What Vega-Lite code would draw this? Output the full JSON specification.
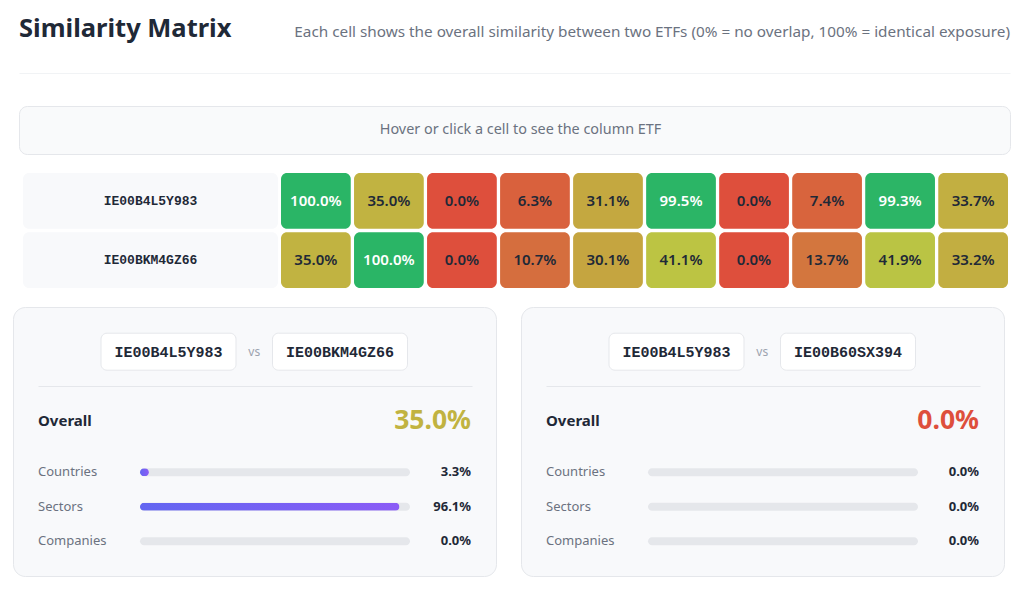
{
  "$schema": "https://vega.github.io/schema/vega-lite/v6.json",
  "background": "#ffffff",
  "padding": {"left": 12, "top": 0, "right": 0, "bottom": 0},
  "config": {
    "view": {"stroke": null},
    "font": "Noto Sans",
    "concat": {"spacing": 0}
  },
  "datasets": {
    "header": [
      {"role": "title", "text": "Similarity Matrix"},
      {"role": "subtitle", "text": "Each cell shows the overall similarity between two ETFs (0% = no overlap, 100% = identical exposure)"}
    ],
    "hint": [{"text": "Hover or click a cell to see the column ETF"}],
    "etfs": [{"isin": "IE00B4L5Y983"}, {"isin": "IE00BKM4GZ66"}],
    "matrix": [
      {"row": "IE00B4L5Y983", "col": "IE00B4L5Y983", "similarity": 1.0},
      {"row": "IE00B4L5Y983", "col": "IE00BKM4GZ66", "similarity": 0.35},
      {"row": "IE00B4L5Y983", "col": "IE00B60SX394", "similarity": 0.0},
      {"row": "IE00B4L5Y983", "col": "ETF #4", "similarity": 0.063},
      {"row": "IE00B4L5Y983", "col": "ETF #5", "similarity": 0.311},
      {"row": "IE00B4L5Y983", "col": "ETF #6", "similarity": 0.995},
      {"row": "IE00B4L5Y983", "col": "ETF #7", "similarity": 0.0},
      {"row": "IE00B4L5Y983", "col": "ETF #8", "similarity": 0.074},
      {"row": "IE00B4L5Y983", "col": "ETF #9", "similarity": 0.993},
      {"row": "IE00B4L5Y983", "col": "ETF #10", "similarity": 0.337},
      {"row": "IE00BKM4GZ66", "col": "IE00B4L5Y983", "similarity": 0.35},
      {"row": "IE00BKM4GZ66", "col": "IE00BKM4GZ66", "similarity": 1.0},
      {"row": "IE00BKM4GZ66", "col": "IE00B60SX394", "similarity": 0.0},
      {"row": "IE00BKM4GZ66", "col": "ETF #4", "similarity": 0.107},
      {"row": "IE00BKM4GZ66", "col": "ETF #5", "similarity": 0.301},
      {"row": "IE00BKM4GZ66", "col": "ETF #6", "similarity": 0.411},
      {"row": "IE00BKM4GZ66", "col": "ETF #7", "similarity": 0.0},
      {"row": "IE00BKM4GZ66", "col": "ETF #8", "similarity": 0.137},
      {"row": "IE00BKM4GZ66", "col": "ETF #9", "similarity": 0.419},
      {"row": "IE00BKM4GZ66", "col": "ETF #10", "similarity": 0.332}
    ],
    "pairs": [
      {"card": 1, "section": "pair", "side": "left", "isin": "IE00B4L5Y983"},
      {"card": 1, "section": "pair", "side": "right", "isin": "IE00BKM4GZ66"},
      {"card": 2, "section": "pair", "side": "left", "isin": "IE00B4L5Y983"},
      {"card": 2, "section": "pair", "side": "right", "isin": "IE00B60SX394"}
    ],
    "overall": [
      {"card": 1, "label": "Overall", "similarity": 0.35},
      {"card": 2, "label": "Overall", "similarity": 0.0}
    ],
    "breakdown": [
      {"card": 1, "dimension": "Countries", "similarity": 0.033},
      {"card": 1, "dimension": "Sectors", "similarity": 0.961},
      {"card": 1, "dimension": "Companies", "similarity": 0.0},
      {"card": 2, "dimension": "Countries", "similarity": 0.0},
      {"card": 2, "dimension": "Sectors", "similarity": 0.0},
      {"card": 2, "dimension": "Companies", "similarity": 0.0}
    ]
  },
  "spacing": 0,
  "vconcat": [
    {
      "bounds": "flush",
      "spacing": 0,
      "hconcat": [
        {"width": 6, "height": 73, "data": {"values": []}, "mark": "point", "encoding": {}},
        {
          "width": 991,
          "height": 73,
          "data": {"name": "header"},
          "layer": [
            {
              "transform": [{"filter": "datum.role == 'title'"}],
              "mark": {"type": "text", "align": "left", "baseline": "alphabetic", "fontSize": 25.5, "fontWeight": "bold", "color": "#1f2937"},
              "encoding": {
                "x": {
                  "field": "role", "type": "nominal",
                  "scale": {"type": "point", "domain": ["title", "subtitle"], "padding": 0},
                  "axis": {"orient": "bottom", "title": null, "labels": false, "ticks": false, "grid": false, "domain": true, "domainColor": "#f1f3f5", "domainWidth": 1}
                },
                "text": {"field": "text"}
              }
            },
            {
              "transform": [{"filter": "datum.role == 'subtitle'"}],
              "mark": {"type": "text", "align": "right", "baseline": "alphabetic", "fontSize": 15.3, "color": "#6b7280"},
              "encoding": {
                "x": {"field": "role", "type": "nominal"},
                "text": {"field": "text"}
              }
            }
          ]
        }
      ]
    },
    {"width": 1, "height": 32, "data": {"values": []}, "mark": "point", "encoding": {}},
    {
      "bounds": "flush",
      "spacing": 0,
      "hconcat": [
        {"width": 6, "height": 48, "data": {"values": []}, "mark": "point", "encoding": {}},
        {
          "width": 991,
          "height": 48,
          "view": {"fill": "#f9fafb", "stroke": "#e5e7eb", "strokeWidth": 1, "cornerRadius": 8},
          "data": {"name": "hint"},
          "mark": {"type": "text", "fontSize": 14.4, "color": "#6b7280", "dx": 6},
          "encoding": {"text": {"field": "text"}}
        }
      ]
    },
    {"width": 1, "height": 17.7, "data": {"values": []}, "mark": "point", "encoding": {}},
    {
      "bounds": "flush",
      "spacing": 3,
      "hconcat": [
        {"width": 7, "height": 115, "data": {"values": []}, "mark": "point", "encoding": {}},
        {
          "width": 255,
          "height": 115,
          "data": {"name": "etfs"},
          "encoding": {
            "y": {"field": "isin", "type": "nominal", "sort": null, "scale": {"paddingInner": 0.06, "paddingOuter": 0}, "axis": null}
          },
          "layer": [
            {"mark": {"type": "rect", "fill": "#f8f9fb", "cornerRadius": 6}, "encoding": {}},
            {
              "mark": {"type": "text", "font": "Liberation Mono", "fontWeight": "bold", "fontSize": 13, "color": "#1f2937"},
              "encoding": {"text": {"field": "isin"}}
            }
          ]
        },
        {
          "width": 727,
          "height": 115,
          "data": {"name": "matrix"},
          "encoding": {
            "x": {"field": "col", "type": "nominal", "sort": null, "scale": {"paddingInner": 0.045, "paddingOuter": 0}, "axis": null},
            "y": {"field": "row", "type": "nominal", "sort": null, "scale": {"paddingInner": 0.06, "paddingOuter": 0}, "axis": null}
          },
          "layer": [
            {
              "mark": {"type": "rect", "cornerRadius": 6},
              "encoding": {
                "color": {
                  "field": "similarity", "type": "quantitative",
                  "scale": {"type": "linear", "domain": [0, 0.35, 0.41, 1], "range": ["#de4f3c", "#c1b341", "#bcc443", "#2ab566"], "interpolate": "rgb"},
                  "legend": null
                }
              }
            },
            {
              "mark": {"type": "text", "fontSize": 15, "fontWeight": 600},
              "encoding": {
                "text": {"field": "similarity", "type": "quantitative", "format": ".1%"},
                "color": {"condition": {"test": "datum.similarity >= 0.9", "value": "#ffffff"}, "value": "#1f2937"}
              }
            }
          ]
        }
      ]
    },
    {"width": 1, "height": 17.8, "data": {"values": []}, "mark": "point", "encoding": {}},
    {
      "bounds": "flush",
      "spacing": 25,
      "hconcat": [
        {
          "width": 483,
          "height": 269,
          "view": {"fill": "#f8f9fb", "stroke": "#e5e7eb", "strokeWidth": 1, "cornerRadius": 12},
          "layer": [
            {
              "data": {"name": "breakdown"},
              "transform": [{"filter": "datum.card == 1"}],
              "mark": {"type": "bar", "height": 8, "cornerRadius": 4, "fill": "#e5e7eb"},
              "encoding": {
                "x": {"datum": 1, "type": "quantitative", "scale": {"domain": [-0.37778, 1.22963], "range": [25, 459], "nice": false, "zero": false}, "axis": {"orient": "top", "offset": -79, "title": null, "labels": false, "ticks": false, "grid": false, "domain": true, "domainColor": "#e5e7eb", "domainWidth": 1}},
                "y": {"field": "dimension", "type": "ordinal", "scale": {"type": "band", "domain": ["pair", "g1", "sep", "g2", "Overall", "g3", "g4", "Countries", "g5", "Sectors", "g6", "Companies"], "range": [36.08, 242.85], "paddingInner": 0, "paddingOuter": 0}, "axis": null}
              }
            },
            {
              "data": {"name": "breakdown"},
              "transform": [{"filter": "datum.card == 1"}],
              "mark": {"type": "bar", "height": 8, "cornerRadius": 4, "fill": {"gradient": "linear", "x1": 0, "y1": 0, "x2": 1, "y2": 0, "stops": [{"offset": 0, "color": "#6366f1"}, {"offset": 1, "color": "#8b5cf6"}]}},
              "encoding": {
                "x": {"field": "similarity", "type": "quantitative"},
                "y": {"field": "dimension", "type": "ordinal", "axis": null}
              }
            },
            {
              "data": {"name": "breakdown"},
              "transform": [{"filter": "datum.card == 1"}],
              "mark": {"type": "text", "align": "left", "fontSize": 13, "color": "#6b7280"},
              "encoding": {
                "x": {"datum": -0.37778, "type": "quantitative"},
                "y": {"field": "dimension", "type": "ordinal", "axis": null},
                "text": {"field": "dimension"}
              }
            },
            {
              "data": {"name": "breakdown"},
              "transform": [{"filter": "datum.card == 1"}],
              "mark": {"type": "text", "align": "right", "fontSize": 13, "fontWeight": "bold", "color": "#1f2937"},
              "encoding": {
                "x": {"datum": 1.22593, "type": "quantitative"},
                "y": {"field": "dimension", "type": "ordinal", "axis": null},
                "text": {"field": "similarity", "type": "quantitative", "format": ".1%"}
              }
            },
            {
              "data": {"name": "overall"},
              "transform": [{"filter": "datum.card == 1"}],
              "mark": {"type": "text", "align": "left", "fontSize": 15, "fontWeight": "bold", "color": "#1f2937"},
              "encoding": {
                "x": {"datum": -0.37778, "type": "quantitative"},
                "y": {"field": "label", "type": "ordinal", "axis": null},
                "text": {"field": "label"}
              }
            },
            {
              "data": {"name": "overall"},
              "transform": [{"filter": "datum.card == 1"}],
              "mark": {"type": "text", "align": "right", "fontSize": 26.5, "fontWeight": "bold"},
              "encoding": {
                "x": {"datum": 1.22593, "type": "quantitative"},
                "y": {"field": "label", "type": "ordinal", "axis": null},
                "text": {"field": "similarity", "type": "quantitative", "format": ".1%"},
                "color": {
                  "field": "similarity", "type": "quantitative",
                  "scale": {"type": "linear", "domain": [0, 0.35, 0.41, 1], "range": ["#de4f3c", "#c1b341", "#bcc443", "#2ab566"], "interpolate": "rgb"},
                  "legend": null
                }
              }
            },
            {
              "data": {"name": "pairs"},
              "transform": [{"filter": "datum.card == 1 && datum.side == 'left'"}],
              "mark": {"type": "rect", "width": 135, "height": 37, "fill": "#ffffff", "stroke": "#e5e7eb", "strokeWidth": 1, "cornerRadius": 6},
              "encoding": {
                "x": {"datum": 0.10556, "type": "quantitative"},
                "y": {"field": "section", "type": "ordinal", "axis": null}
              }
            },
            {
              "data": {"name": "pairs"},
              "transform": [{"filter": "datum.card == 1 && datum.side == 'right'"}],
              "mark": {"type": "rect", "width": 135, "height": 37, "fill": "#ffffff", "stroke": "#e5e7eb", "strokeWidth": 1, "cornerRadius": 6},
              "encoding": {
                "x": {"datum": 0.74074, "type": "quantitative"},
                "y": {"field": "section", "type": "ordinal", "axis": null}
              }
            },
            {
              "data": {"name": "pairs"},
              "transform": [{"filter": "datum.card == 1 && datum.side == 'left'"}],
              "mark": {"type": "text", "font": "Liberation Mono", "fontWeight": "bold", "fontSize": 15, "color": "#1f2937"},
              "encoding": {
                "x": {"datum": 0.10556, "type": "quantitative"},
                "y": {"field": "section", "type": "ordinal", "axis": null},
                "text": {"field": "isin"}
              }
            },
            {
              "data": {"name": "pairs"},
              "transform": [{"filter": "datum.card == 1 && datum.side == 'right'"}],
              "mark": {"type": "text", "font": "Liberation Mono", "fontWeight": "bold", "fontSize": 15, "color": "#1f2937"},
              "encoding": {
                "x": {"datum": 0.74074, "type": "quantitative"},
                "y": {"field": "section", "type": "ordinal", "axis": null},
                "text": {"field": "isin"}
              }
            },
            {
              "data": {"name": "pairs"},
              "transform": [{"filter": "datum.card == 1 && datum.side == 'left'"}],
              "mark": {"type": "text", "text": "vs", "fontSize": 12, "color": "#9ca3af"},
              "encoding": {
                "x": {"datum": 0.42315, "type": "quantitative"},
                "y": {"field": "section", "type": "ordinal", "axis": null}
              }
            }
          ]
        },
        {
          "width": 483,
          "height": 269,
          "view": {"fill": "#f8f9fb", "stroke": "#e5e7eb", "strokeWidth": 1, "cornerRadius": 12},
          "layer": [
            {
              "data": {"name": "breakdown"},
              "transform": [{"filter": "datum.card == 2"}],
              "mark": {"type": "bar", "height": 8, "cornerRadius": 4, "fill": "#e5e7eb"},
              "encoding": {
                "x": {"datum": 1, "type": "quantitative", "scale": {"domain": [-0.37778, 1.22963], "range": [25, 459], "nice": false, "zero": false}, "axis": {"orient": "top", "offset": -79, "title": null, "labels": false, "ticks": false, "grid": false, "domain": true, "domainColor": "#e5e7eb", "domainWidth": 1}},
                "y": {"field": "dimension", "type": "ordinal", "scale": {"type": "band", "domain": ["pair", "g1", "sep", "g2", "Overall", "g3", "g4", "Countries", "g5", "Sectors", "g6", "Companies"], "range": [36.08, 242.85], "paddingInner": 0, "paddingOuter": 0}, "axis": null}
              }
            },
            {
              "data": {"name": "breakdown"},
              "transform": [{"filter": "datum.card == 2"}],
              "mark": {"type": "bar", "height": 8, "cornerRadius": 4, "fill": {"gradient": "linear", "x1": 0, "y1": 0, "x2": 1, "y2": 0, "stops": [{"offset": 0, "color": "#6366f1"}, {"offset": 1, "color": "#8b5cf6"}]}},
              "encoding": {
                "x": {"field": "similarity", "type": "quantitative"},
                "y": {"field": "dimension", "type": "ordinal", "axis": null}
              }
            },
            {
              "data": {"name": "breakdown"},
              "transform": [{"filter": "datum.card == 2"}],
              "mark": {"type": "text", "align": "left", "fontSize": 13, "color": "#6b7280"},
              "encoding": {
                "x": {"datum": -0.37778, "type": "quantitative"},
                "y": {"field": "dimension", "type": "ordinal", "axis": null},
                "text": {"field": "dimension"}
              }
            },
            {
              "data": {"name": "breakdown"},
              "transform": [{"filter": "datum.card == 2"}],
              "mark": {"type": "text", "align": "right", "fontSize": 13, "fontWeight": "bold", "color": "#1f2937"},
              "encoding": {
                "x": {"datum": 1.22593, "type": "quantitative"},
                "y": {"field": "dimension", "type": "ordinal", "axis": null},
                "text": {"field": "similarity", "type": "quantitative", "format": ".1%"}
              }
            },
            {
              "data": {"name": "overall"},
              "transform": [{"filter": "datum.card == 2"}],
              "mark": {"type": "text", "align": "left", "fontSize": 15, "fontWeight": "bold", "color": "#1f2937"},
              "encoding": {
                "x": {"datum": -0.37778, "type": "quantitative"},
                "y": {"field": "label", "type": "ordinal", "axis": null},
                "text": {"field": "label"}
              }
            },
            {
              "data": {"name": "overall"},
              "transform": [{"filter": "datum.card == 2"}],
              "mark": {"type": "text", "align": "right", "fontSize": 26.5, "fontWeight": "bold"},
              "encoding": {
                "x": {"datum": 1.22593, "type": "quantitative"},
                "y": {"field": "label", "type": "ordinal", "axis": null},
                "text": {"field": "similarity", "type": "quantitative", "format": ".1%"},
                "color": {
                  "field": "similarity", "type": "quantitative",
                  "scale": {"type": "linear", "domain": [0, 0.35, 0.41, 1], "range": ["#de4f3c", "#c1b341", "#bcc443", "#2ab566"], "interpolate": "rgb"},
                  "legend": null
                }
              }
            },
            {
              "data": {"name": "pairs"},
              "transform": [{"filter": "datum.card == 2 && datum.side == 'left'"}],
              "mark": {"type": "rect", "width": 135, "height": 37, "fill": "#ffffff", "stroke": "#e5e7eb", "strokeWidth": 1, "cornerRadius": 6},
              "encoding": {
                "x": {"datum": 0.10556, "type": "quantitative"},
                "y": {"field": "section", "type": "ordinal", "axis": null}
              }
            },
            {
              "data": {"name": "pairs"},
              "transform": [{"filter": "datum.card == 2 && datum.side == 'right'"}],
              "mark": {"type": "rect", "width": 135, "height": 37, "fill": "#ffffff", "stroke": "#e5e7eb", "strokeWidth": 1, "cornerRadius": 6},
              "encoding": {
                "x": {"datum": 0.74074, "type": "quantitative"},
                "y": {"field": "section", "type": "ordinal", "axis": null}
              }
            },
            {
              "data": {"name": "pairs"},
              "transform": [{"filter": "datum.card == 2 && datum.side == 'left'"}],
              "mark": {"type": "text", "font": "Liberation Mono", "fontWeight": "bold", "fontSize": 15, "color": "#1f2937"},
              "encoding": {
                "x": {"datum": 0.10556, "type": "quantitative"},
                "y": {"field": "section", "type": "ordinal", "axis": null},
                "text": {"field": "isin"}
              }
            },
            {
              "data": {"name": "pairs"},
              "transform": [{"filter": "datum.card == 2 && datum.side == 'right'"}],
              "mark": {"type": "text", "font": "Liberation Mono", "fontWeight": "bold", "fontSize": 15, "color": "#1f2937"},
              "encoding": {
                "x": {"datum": 0.74074, "type": "quantitative"},
                "y": {"field": "section", "type": "ordinal", "axis": null},
                "text": {"field": "isin"}
              }
            },
            {
              "data": {"name": "pairs"},
              "transform": [{"filter": "datum.card == 2 && datum.side == 'left'"}],
              "mark": {"type": "text", "text": "vs", "fontSize": 12, "color": "#9ca3af"},
              "encoding": {
                "x": {"datum": 0.42315, "type": "quantitative"},
                "y": {"field": "section", "type": "ordinal", "axis": null}
              }
            }
          ]
        }
      ]
    }
  ]
}
